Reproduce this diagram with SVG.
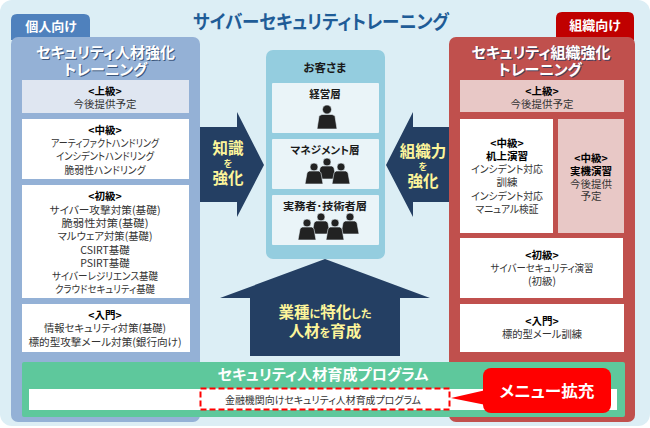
<svg xmlns="http://www.w3.org/2000/svg" width="650" height="428" viewBox="0 0 650 428">
<defs>
<style>
text{font-family:"Noto Sans CJK JP","Liberation Sans",sans-serif;text-anchor:middle;fill:#333;font-size:10.5px;font-feature-settings:"palt"}
.h{font-weight:700;fill:#000}
.pt{font-weight:700;fill:#fff;font-size:15px}
.pts{font-weight:700;fill:#1f3a60;font-size:15px;opacity:.75}
.tab{font-weight:700;fill:#fff;font-size:13px}
.y{font-weight:700;fill:#fdf59a}
.dark{fill:#243f63}
.p{fill:#222;stroke:#eaf4f8;stroke-width:.6}
.n{font-weight:700;fill:#1a1a1a;font-size:10.5px}
</style>
<g id="person"><circle cx="0" cy="-10.500" r="4.500"/><path d="M-10 9 L-8 -3.500 Q-7.500 -5 -5 -5.500 H5 Q7.500 -5 8 -3.500 L10 9 Z"/></g>
<g id="p2"><circle cx="0" cy="-9" r="4"/><path d="M-9 8 L-7 -3 Q-6.500 -4.500 -4.500 -5 H4.500 Q6.500 -4.500 7 -3 L9 8 Z"/></g>
</defs>
<rect id="bg" x="0" y="0" width="650" height="426" rx="12" fill="#dceef5"/>
<text x="321" y="29" textLength="256" lengthAdjust="spacingAndGlyphs" style="font-size:19px;font-weight:700;fill:#1f5c97">サイバーセキュリティトレーニング</text>

<g id="left-panel">
<path d="M11 40V20q0-6 6-6H84q6 0 6 6V40Z" fill="#4f81bd"/>
<text class="tab" x="51" y="31">個人向け</text>
<rect x="11" y="37" width="189" height="385" rx="7" fill="#94b1d6"/>
<text class="pts" x="106.500" y="59">セキュリティ人材強化</text><text class="pts" x="106.500" y="76">トレーニング</text>
<text class="pt" x="105.500" y="58">セキュリティ人材強化</text><text class="pt" x="105.500" y="75">トレーニング</text>
<rect x="22" y="80" width="167" height="33" fill="#dfe6f1"/>
<text class="h" x="105" y="95">&lt;上級&gt;</text><text x="105" y="108">今後提供予定</text>
<rect x="22" y="119" width="167" height="60" fill="#fff"/>
<text class="h" x="105" y="134">&lt;中級&gt;</text><text x="105" y="147" textLength="108" lengthAdjust="spacingAndGlyphs">アーティファクトハンドリング</text><text x="105" y="160" textLength="98" lengthAdjust="spacingAndGlyphs">インシデントハンドリング</text><text x="105" y="174" textLength="81" lengthAdjust="spacingAndGlyphs">脆弱性ハンドリング</text>
<rect x="22" y="185" width="167" height="113" fill="#fff"/>
<text class="h" x="105" y="200">&lt;初級&gt;</text><text x="105" y="214" textLength="111" lengthAdjust="spacingAndGlyphs">サイバー攻撃対策(基礎)</text><text x="105" y="227" textLength="87" lengthAdjust="spacingAndGlyphs">脆弱性対策(基礎)</text><text x="105" y="240" textLength="95" lengthAdjust="spacingAndGlyphs">マルウェア対策(基礎)</text><text x="105" y="254">CSIRT基礎</text><text x="105" y="267">PSIRT基礎</text><text x="105" y="280" textLength="106" lengthAdjust="spacingAndGlyphs">サイバーレジリエンス基礎</text><text x="105" y="293" textLength="100" lengthAdjust="spacingAndGlyphs">クラウドセキュリティ基礎</text>
<rect x="22" y="304" width="168" height="48" fill="#fff"/>
<text class="h" x="105" y="319">&lt;入門&gt;</text><text x="105" y="332" textLength="122" lengthAdjust="spacingAndGlyphs">情報セキュリティ対策(基礎)</text><text x="105" y="346" textLength="153" lengthAdjust="spacingAndGlyphs">標的型攻撃メール対策(銀行向け)</text>
</g>

<g id="right-panel">
<path d="M556 40V18q0-6 6-6H628q6 0 6 6V40Z" fill="#c00000"/>
<text class="tab" x="595" y="30">組織向け</text>
<rect x="449" y="37" width="186" height="385" rx="7" fill="#c0504d"/>
<text class="pts" x="542" y="59">セキュリティ組織強化</text><text class="pts" x="541" y="76">トレーニング</text>
<text class="pt" x="541" y="58">セキュリティ組織強化</text><text class="pt" x="540" y="75">トレーニング</text>
<rect x="460" y="80" width="164" height="32" fill="#e8c8c6"/>
<text class="h" x="542" y="95">&lt;上級&gt;</text><text x="542" y="108">今後提供予定</text>
<rect x="460" y="119" width="93" height="114" fill="#fff"/>
<text class="h" x="507" y="147">&lt;中級&gt;</text><text class="h" x="507" y="160">机上演習</text><text x="507" y="173" textLength="72" lengthAdjust="spacingAndGlyphs">インシデント対応</text><text x="507" y="186">訓練</text><text x="507" y="200" textLength="72" lengthAdjust="spacingAndGlyphs">インシデント対応</text><text x="507" y="213" textLength="63" lengthAdjust="spacingAndGlyphs">マニュアル検証</text>
<rect x="558" y="119" width="66" height="114" fill="#e8c8c6"/>
<text class="h" x="591" y="162">&lt;中級&gt;</text><text class="h" x="591" y="175">実機演習</text><text x="591" y="188">今後提供</text><text x="591" y="200">予定</text>
<rect x="460" y="238" width="163" height="60" fill="#fff"/>
<text class="h" x="542" y="259">&lt;初級&gt;</text><text x="542" y="272" textLength="103" lengthAdjust="spacingAndGlyphs">サイバーセキュリティ演習</text><text x="542" y="285">(初級)</text>
<rect x="460" y="304" width="164" height="48" fill="#fff"/>
<text class="h" x="542" y="325">&lt;入門&gt;</text><text x="542" y="338" textLength="80" lengthAdjust="spacingAndGlyphs">標的型メール訓練</text>
</g>

<g id="customers">
<rect x="266" y="50" width="119" height="209" rx="7" fill="#94cddf"/>
<text class="n" x="325" y="72" style="font-size:11.500px">お客さま</text>
<rect x="272" y="83" width="107" height="50" rx="1" fill="#eaf4f8"/>
<rect x="272" y="139" width="107" height="50" rx="1" fill="#eaf4f8"/>
<rect x="272" y="195" width="107" height="50" rx="1" fill="#eaf4f8"/>
<text class="n" x="325" y="98">経営層</text>
<text class="n" x="325" y="154" textLength="69" lengthAdjust="spacingAndGlyphs">マネジメント層</text>
<text class="n" x="325" y="210" textLength="84" lengthAdjust="spacingAndGlyphs">実務者･技術者層</text>
<g class="p">
<use href="#person" x="327" y="120"/>
<use href="#p2" x="327" y="171"/><use href="#p2" x="314" y="176"/><use href="#p2" x="341" y="176"/>
<use href="#p2" x="321" y="226"/><use href="#p2" x="350" y="226"/><use href="#p2" x="307" y="232"/><use href="#p2" x="335" y="232"/>
</g>
</g>

<g id="connectors">
<path class="dark" d="M200 127H237V112L264 165L237 217V202H200Z"/>
<path class="dark" d="M449 127H413V112L386 165L413 217V202H449Z"/>
<path class="dark" d="M325 259L430 298H400V356H250V298H220Z"/>
<text class="y" x="228" y="154" style="font-size:15.500px">知識</text><text class="y" x="228" y="167" style="font-size:9px">を</text><text class="y" x="228" y="184" style="font-size:15.500px">強化</text>
<text class="y" x="423" y="157" style="font-size:15.500px">組織力</text><text class="y" x="423" y="170" style="font-size:9px">を</text><text class="y" x="423" y="187" style="font-size:15.500px">強化</text>
<text class="y" x="325" y="318" style="font-size:15.500px">業種<tspan style="font-size:11px">に</tspan>特化<tspan style="font-size:11px">した</tspan></text>
<text class="y" x="325" y="337" style="font-size:15.500px">人材<tspan style="font-size:11px">を</tspan>育成</text>
</g>

<g id="program">
<rect x="22" y="362" width="603" height="55" rx="2" fill="#5ec89c"/>
<text x="323" y="380" textLength="211" lengthAdjust="spacingAndGlyphs" style="font-weight:700;fill:#fff;font-size:14.500px">セキュリティ人材育成プログラム</text>
<rect x="29" y="389" width="588" height="21" fill="#fff"/>
<rect x="200.500" y="388.500" width="249" height="21" fill="#fff" stroke="#ff0000" stroke-width="2" stroke-dasharray="6 3"/>
<text x="323" y="404" textLength="196" lengthAdjust="spacingAndGlyphs" style="font-size:10px">金融機関向けセキュリティ人材育成プログラム</text>
</g>

<g id="callout">
<path d="M451 398L486 390V405Z" fill="#ff0000"/>
<rect x="483" y="368" width="128" height="45" rx="8" fill="#ff0000"/>
<text x="547" y="397" textLength="95" lengthAdjust="spacingAndGlyphs" style="font-weight:700;fill:#fff;font-size:16px">メニュー拡充</text>
</g>
</svg>
